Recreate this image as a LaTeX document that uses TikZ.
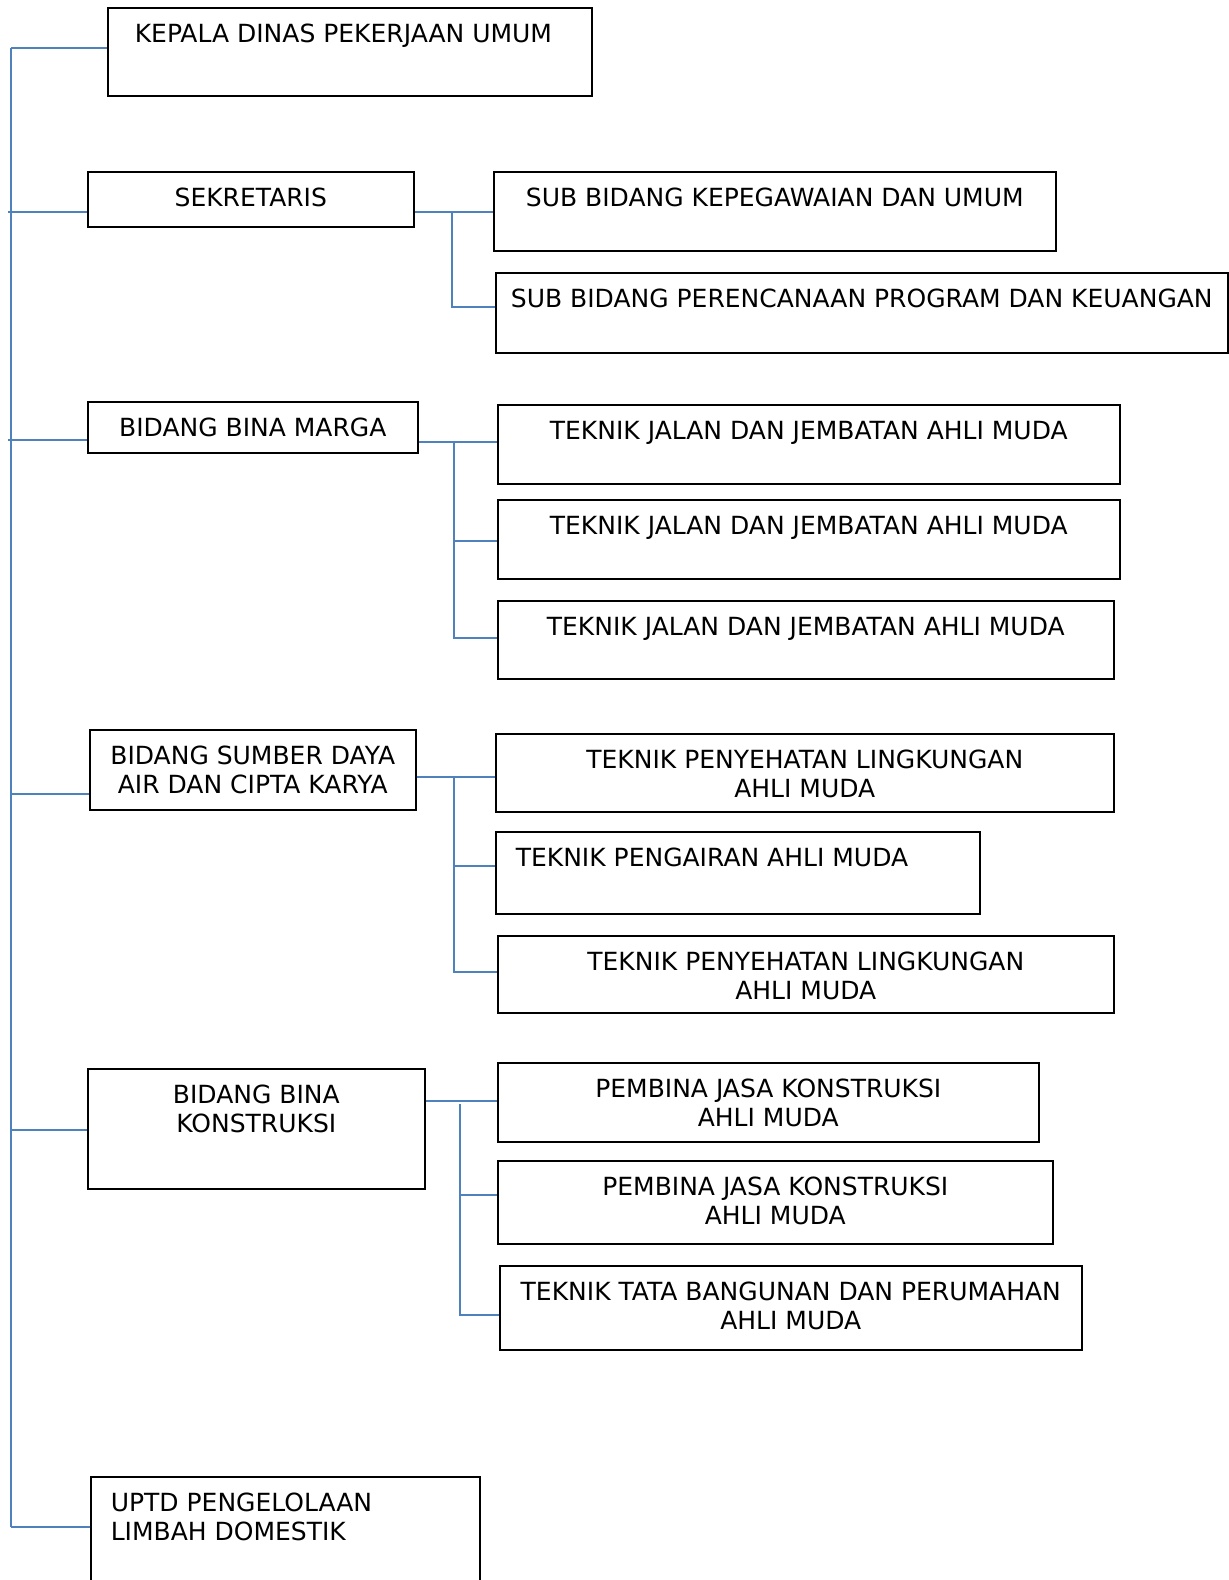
\documentclass[tikz,border=0pt]{standalone}
\usepackage{fontspec}
\setmainfont{DejaVu Sans}
\usepackage{tikz}

\definecolor{orgblue}{RGB}{79,129,189}
\newdimen\unitpx
\unitpx=0.5pt
% box text: width, height, alignment, text (first baseline 35px below the top)
\newcommand{\boxtxt}[4]{\parbox[c][#2\unitpx][t]{#1\unitpx}{#3\rule{0pt}{35\unitpx}#4}}

\begin{document}
\begin{tikzpicture}[x=0.5pt,y=-0.5pt,
    box/.style={draw, line width=0.8pt, inner sep=0pt, anchor=north west,
                font=\fontsize{12.5}{14.5}\selectfont},
    link/.style={draw=orgblue, line width=1pt}]
    \useasboundingbox (0,0) rectangle (1229,1580);

    % Nodes
    \node[box] (kepala) at (107,7) {\boxtxt{484}{88}{\raggedright\leftskip=27\unitpx}{KEPALA DINAS PEKERJAAN UMUM}};
    \node[box] (sekretaris) at (87,171) {\boxtxt{326}{55}{\centering}{SEKRETARIS}};
    \node[box] (kepegawaian) at (493,171) {\boxtxt{562}{79}{\centering}{SUB BIDANG KEPEGAWAIAN DAN UMUM}};
    \node[box] (perencanaan) at (495,272) {\boxtxt{732}{80}{\centering}{SUB BIDANG PERENCANAAN PROGRAM DAN KEUANGAN}};

    \node[box] (binamarga) at (87,401) {\boxtxt{330}{51}{\centering}{BIDANG BINA MARGA}};
    \node[box] (jalanA) at (497,404) {\boxtxt{622}{79}{\centering}{TEKNIK JALAN DAN JEMBATAN AHLI MUDA}};
    \node[box] (jalanB) at (497,499) {\boxtxt{622}{79}{\centering}{TEKNIK JALAN DAN JEMBATAN AHLI MUDA}};
    \node[box] (jalanC) at (497,600) {\boxtxt{616}{78}{\centering}{TEKNIK JALAN DAN JEMBATAN AHLI MUDA}};

    \node[box] (sda) at (89,729) {\boxtxt{326}{80}{\centering}{BIDANG SUMBER DAYA\\AIR DAN CIPTA KARYA}};
    \node[box] (lingkunganA) at (495,733) {\boxtxt{618}{78}{\centering}{TEKNIK PENYEHATAN LINGKUNGAN\\AHLI MUDA}};
    \node[box] (pengairan) at (495,831) {\boxtxt{484}{82}{\raggedright\leftskip=20\unitpx}{TEKNIK PENGAIRAN AHLI MUDA}};
    \node[box] (lingkunganB) at (497,935) {\boxtxt{616}{77}{\centering}{TEKNIK PENYEHATAN LINGKUNGAN\\AHLI MUDA}};

    \node[box] (konstruksi) at (87,1068) {\boxtxt{337}{120}{\centering}{BIDANG BINA\\KONSTRUKSI}};
    \node[box] (jasaA) at (497,1062) {\boxtxt{541}{79}{\centering}{PEMBINA JASA KONSTRUKSI\\AHLI MUDA}};
    \node[box] (jasaB) at (497,1160) {\boxtxt{555}{83}{\centering}{PEMBINA JASA KONSTRUKSI\\AHLI MUDA}};
    \node[box] (tatabangunan) at (499,1265) {\boxtxt{582}{84}{\centering}{TEKNIK TATA BANGUNAN DAN PERUMAHAN\\AHLI MUDA}};

    \node[box] (uptd) at (90,1476) {\boxtxt{389}{130}{\raggedright\leftskip=20\unitpx}{UPTD PENGELOLAAN\\LIMBAH DOMESTIK}};

    % Edges
    \coordinate (top) at (11,48);
    \coordinate (bottom) at (11,1527);
    \coordinate (lsek) at (8,212);
    \coordinate (lbm) at (8,440);
    \coordinate (lsda) at (11,794);
    \coordinate (lkon) at (10,1130);
    \draw[link] (top) -- (bottom);
    \draw[link] (top) -- (top -| kepala.west);
    \draw[link] (lsek) -- (lsek -| sekretaris.west);
    \draw[link] (lbm) -- (lbm -| binamarga.west);
    \draw[link] (lsda) -- (lsda -| sda.west);
    \draw[link] (lkon) -- (lkon -| konstruksi.west);
    \draw[link] (bottom) -- (bottom -| uptd.west);

    \coordinate (sek1) at (452,212);
    \coordinate (sek2) at (452,307);
    \draw[link] (sek1 -| sekretaris.east) -- (sek1 -| kepegawaian.west);
    \draw[link] (sek1) -- (sek2) -- (sek2 -| perencanaan.west);

    \coordinate (bm1) at (454,442);
    \coordinate (bm2) at (454,541);
    \coordinate (bm3) at (454,638);
    \draw[link] (bm1 -| binamarga.east) -- (bm1 -| jalanA.west);
    \draw[link] (bm1) -- (bm3) -- (bm3 -| jalanC.west);
    \draw[link] (bm2) -- (bm2 -| jalanB.west);

    \coordinate (sd1) at (454,777);
    \coordinate (sd2) at (454,866);
    \coordinate (sd3) at (454,972);
    \draw[link] (sd1 -| sda.east) -- (sd1 -| lingkunganA.west);
    \draw[link] (sd1) -- (sd3) -- (sd3 -| lingkunganB.west);
    \draw[link] (sd2) -- (sd2 -| pengairan.west);

    \coordinate (kn0) at (460,1104);
    \coordinate (kn1) at (460,1101);
    \coordinate (kn2) at (460,1195);
    \coordinate (kn3) at (460,1315);
    \draw[link] (kn1 -| konstruksi.east) -- (kn1 -| jasaA.west);
    \draw[link] (kn0) -- (kn3) -- (kn3 -| tatabangunan.west);
    \draw[link] (kn2) -- (kn2 -| jasaB.west);
\end{tikzpicture}
\end{document}
